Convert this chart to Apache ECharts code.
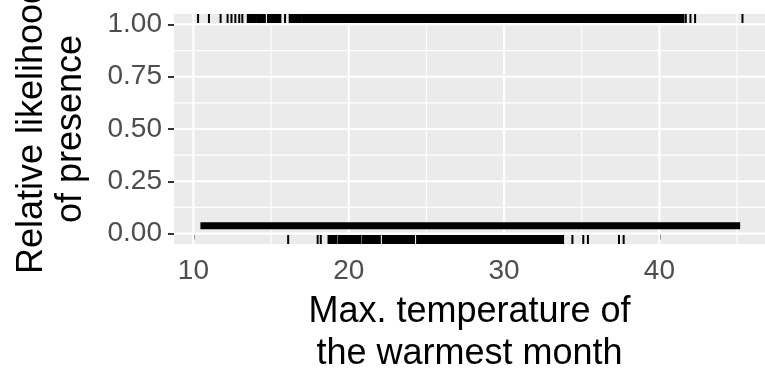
<!DOCTYPE html>
<html><head><meta charset="utf-8">
<script src="https://cdn.jsdelivr.net/npm/echarts@6/dist/echarts.min.js"></script>
<style>html,body{margin:0;padding:0;background:#fff}#c{width:765px;height:383px}</style>
</head><body><div id="c"></div>
<script>
// ---- data ----
const xTickValues = [10, 20, 30, 40];
const xTickLabels = ['10', '20', '30', '40'];
const xMinorValues = [15, 25, 35, 45];
const yTickValues = [0, 0.25, 0.5, 0.75, 1];
const yTickLabels = ['0.00', '0.25', '0.50', '0.75', '1.00'];
const yMinorValues = [0.125, 0.375, 0.625, 0.875];

// fitted response curve (flat near zero)
const curveX = [10.45, 15, 20, 25, 30, 35, 40, 45.2];
const curveY = [0.037, 0.037, 0.037, 0.037, 0.037, 0.037, 0.037, 0.037];

// rug of presences (y = 1), as [start, end] runs of temperature
const presenceRug = [
  [10.3, 10.3], [11.0, 11.0], [11.75, 11.75], [12.2, 12.2], [12.45, 12.45],
  [12.7, 12.7], [12.95, 12.95], [13.15, 13.15], [13.5, 14.0], [14.1, 14.6],
  [14.8, 15.2], [15.3, 15.6], [15.9, 15.9], [16.2, 16.9], [17.0, 41.55],
  [41.7, 41.7], [42.0, 42.0], [42.3, 42.3], [45.35, 45.35]
];
// rug of absences (y = 0)
const absenceRug = [
  [16.1, 16.1], [18.0, 18.0], [18.2, 18.2], [18.7, 19.2], [19.35, 19.9],
  [20.0, 20.75], [20.9, 22.0], [22.2, 24.2], [24.4, 33.8], [34.4, 34.4],
  [35.1, 35.1], [35.4, 35.4], [37.4, 37.4], [37.7, 37.7]
];

const xTitle = 'Max. temperature of\nthe warmest month';
const yTitle = 'Relative likelihood\nof presence';

const X_MIN = 8.75, X_MAX = 46.8, Y_MIN = -0.05, Y_MAX = 1.05;
// ---- chart ----
const FONT = "'Liberation Sans', Arial, sans-serif";
const chart = echarts.init(document.getElementById('c'), null, {renderer: 'canvas'});

function gridRender(params, api) {
  const v = api.value(0), orient = api.value(1), major = api.value(2);
  let p0, p1;
  if (orient === 0) { p0 = api.coord([v, Y_MIN]); p1 = api.coord([v, Y_MAX]); }
  else { p0 = api.coord([X_MIN, v]); p1 = api.coord([X_MAX, v]); }
  return {type: 'line', shape: {x1: p0[0], y1: p0[1], x2: p1[0], y2: p1[1]},
    style: {stroke: '#ffffff', lineWidth: major ? 2.2 : 1.1}};
}
const gridData = [];
xTickValues.forEach(v => gridData.push([v, 0, 1]));
xMinorValues.forEach(v => gridData.push([v, 0, 0]));
yTickValues.forEach(v => gridData.push([v, 1, 1]));
yMinorValues.forEach(v => gridData.push([v, 1, 0]));

function rugRender(edge) {
  return function (params, api) {
    const p0 = api.coord([api.value(0), edge]);
    const p1 = api.coord([api.value(1), edge]);
    const h = 9;
    const y = edge === Y_MAX ? p0[1] : p0[1] - h;
    return {type: 'rect', shape: {x: p0[0] - 1, y: y, width: Math.max(p1[0] - p0[0], 0) + 2, height: h},
      style: {fill: '#000000'}};
  };
}

chart.setOption({
  animation: false,
  backgroundColor: '#ffffff',
  grid: {left: 174, right: 0, top: 14, bottom: 139, show: true, backgroundColor: '#EBEBEB', borderWidth: 0,
    containLabel: false, outerBoundsMode: 'none'},
  xAxis: {
    type: 'value', min: X_MIN, max: X_MAX,
    name: xTitle, nameLocation: 'middle', nameGap: 47,
    nameTextStyle: {fontFamily: FONT, fontSize: 36, color: '#000', lineHeight: 42},
    axisLine: {show: false},
    axisTick: {show: true, length: 6, lineStyle: {color: '#333', width: 2}, customValues: xTickValues},
    axisLabel: {customValues: xTickValues, margin: 13, fontFamily: FONT, fontSize: 28, color: '#4D4D4D',
      formatter: v => xTickLabels[xTickValues.indexOf(v)]},
    splitLine: {show: false}
  },
  yAxis: {
    type: 'value', min: Y_MIN, max: Y_MAX,
    name: yTitle, nameLocation: 'middle', nameGap: 83, nameRotate: 90,
    nameTextStyle: {fontFamily: FONT, fontSize: 36, color: '#000', lineHeight: 39},
    axisLine: {show: false},
    axisTick: {show: true, length: 6, lineStyle: {color: '#333', width: 2}, customValues: yTickValues},
    axisLabel: {customValues: yTickValues, margin: 12, fontFamily: FONT, fontSize: 28, color: '#4D4D4D',
      formatter: v => yTickLabels[yTickValues.indexOf(v)]},
    splitLine: {show: false}
  },
  series: [
    {type: 'custom', z: 1, silent: true, renderItem: gridRender, data: gridData, encode: {x: -1, y: -1}},
    {type: 'line', z: 3, silent: true, showSymbol: false, symbol: 'none',
      data: curveX.map((x, i) => [x, curveY[i]]),
      lineStyle: {color: '#000', width: 7, cap: 'butt'}},
    {type: 'custom', z: 4, silent: true, renderItem: rugRender(Y_MAX), data: presenceRug, encode: {x: [0, 1]}},
    {type: 'custom', z: 4, silent: true, renderItem: rugRender(Y_MIN), data: absenceRug, encode: {x: [0, 1]}}
  ]
});
</script></body></html>
